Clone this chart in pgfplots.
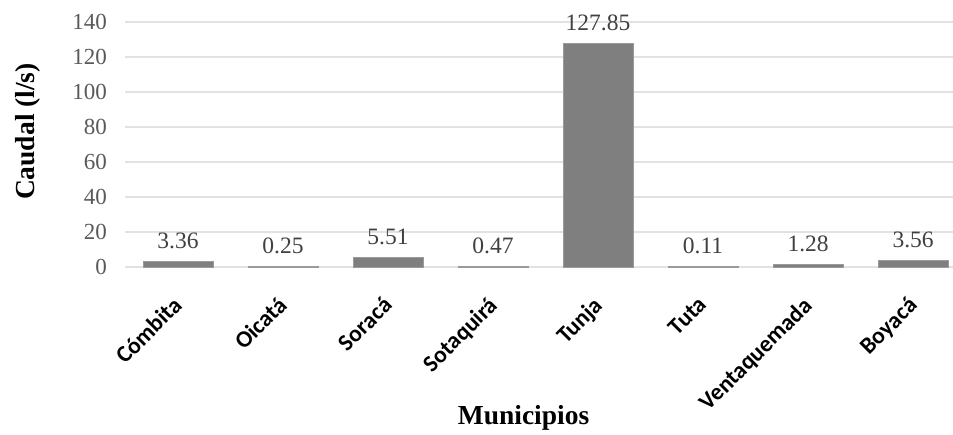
\documentclass[border=0pt]{standalone}
\usepackage{fontspec}
\setmainfont{Liberation Serif}
\newfontfamily\catfont{Carlito}
\usepackage{pgfplots}
\pgfplotsset{compat=1.18}

\definecolor{barfill}{HTML}{7F7F7F}
\definecolor{baredge}{HTML}{9A9A9A}
\definecolor{gridc}{HTML}{E2E2E2}
\definecolor{tickc}{HTML}{595959}
\definecolor{labc}{HTML}{404040}

\begin{document}
\begin{tikzpicture}
\useasboundingbox (-125.5pt,-167pt) rectangle (827.5pt,267pt);
\begin{axis}[
  at={(0pt,0pt)}, anchor=south west,
  scale only axis, width=827.5pt, height=245pt,
  xmin=-0.5, xmax=7.38, ymin=0, ymax=140,
  ytick={0,20,...,140},
  xtick={0,...,7},
  xticklabels={Cómbita,Oicatá,Soracá,Sotaquirá,Tunja,Tuta,Ventaquemada,Boyacá},
  axis line style={draw=none},
  tick style={draw=none},
  major tick length=0pt,
  ymajorgrids, grid style={draw=gridc, line width=1.2pt},
  /pgf/number format/assume math mode=true,
  yticklabel style={font=\fontsize{23}{24}\selectfont, text=tickc, anchor=east, xshift=-15pt},
  xticklabel style={font=\catfont\bfseries\fontsize{23.5}{24}\selectfont, text=black,
    yshift=-28pt, xshift=-6pt, rotate=45, anchor=north east, inner sep=0pt},
  every axis y label/.style={at={(axis description cs:-0.1185,0.553)}, rotate=90, anchor=center,
    font=\bfseries\fontsize{27.5}{28}\selectfont},
  every axis x label/.style={at={(axis description cs:0.481,-0.616)}, anchor=center,
    font=\bfseries\fontsize{27.5}{28}\selectfont},
  ylabel={Caudal (l/s)},
  xlabel={Municipios},
  clip=false,
  ybar, bar width=70pt,
  nodes near coords={\pgfmathprintnumber[fixed,fixed zerofill,precision=2]{\pgfplotspointmeta}},
  every node near coord/.append style={font=\fontsize{23.5}{24}\selectfont, text=labc, yshift=9pt},
]
\addplot[fill=barfill, draw=baredge, line width=0.8pt] coordinates {
  (0,3.36) (1,0.25) (2,5.51) (3,0.47) (4,127.85) (5,0.11) (6,1.28) (7,3.56)
};
\end{axis}
\end{tikzpicture}
\end{document}
